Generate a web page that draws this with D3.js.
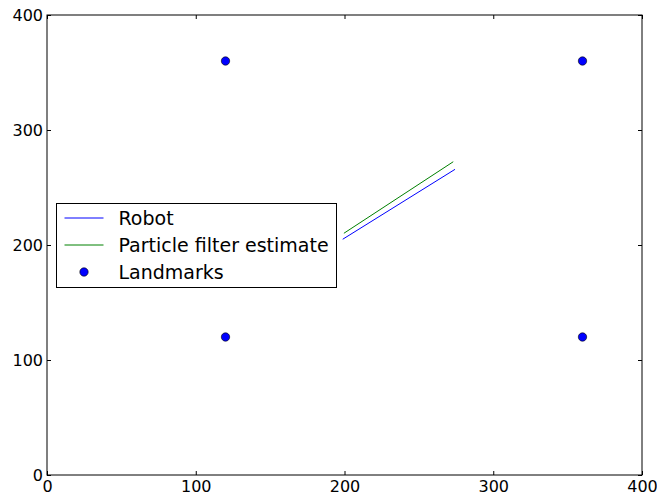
<!DOCTYPE html>
<html>
<head>
<meta charset="utf-8">
<script src="https://cdn.jsdelivr.net/npm/d3@7"></script>
<style>
  html, body { margin: 0; padding: 0; background: #fff; }
  svg { display: block; font-family: "DejaVu Sans", sans-serif; }
</style>
</head>
<body>
<svg id="chart" width="657" height="498"></svg>
<script>
// Robot trajectory and particle filter estimate (x, y)
const robotX = [198.8, 274.3];
const robotY = [205.0, 265.8];
const estimateX = [199.6, 273.1];
const estimateY = [210.2, 272.4];

// Landmark positions
const landmarkX = [120, 120, 360, 360];
const landmarkY = [120, 360, 120, 360];

const xTicks = [0, 100, 200, 300, 400];
const yTicks = [0, 100, 200, 300, 400];

const legendLabels = ["Robot", "Particle filter estimate", "Landmarks"];

const svg = d3.select("#chart");
const plotLeft = 47, plotRight = 642, plotTop = 15, plotBottom = 475;

const x = d3.scaleLinear().domain([0, 400]).range([plotLeft, plotRight]);
const y = d3.scaleLinear().domain([0, 400]).range([plotBottom, plotTop]);

const zip = (xs, ys) => xs.map((v, i) => [v, ys[i]]);
const line = d3.line().x(d => x(d[0])).y(d => y(d[1]));

const plot = svg.append("g");

plot.append("path")
  .datum(zip(robotX, robotY))
  .attr("d", line)
  .attr("fill", "none")
  .attr("stroke", "#0000ff")
  .attr("stroke-width", 1);

plot.append("path")
  .datum(zip(estimateX, estimateY))
  .attr("d", line)
  .attr("fill", "none")
  .attr("stroke", "#008000")
  .attr("stroke-width", 1);

plot.selectAll("circle.lm")
  .data(zip(landmarkX, landmarkY))
  .enter().append("circle")
  .attr("class", "lm")
  .attr("cx", d => x(d[0]))
  .attr("cy", d => y(d[1]))
  .attr("r", 4.2)
  .attr("fill", "#0000ff")
  .attr("stroke", "#000")
  .attr("stroke-width", 0.6);

// Axes: ticks point inward on all four sides
function styleAxis(g) {
  g.select(".domain").remove();
  g.selectAll(".tick line").attr("stroke", "#000").attr("stroke-width", 1);
  g.selectAll(".tick text").attr("fill", "#000")
    .style("font-family", "DejaVu Sans, sans-serif").style("font-size", "16px");
}

svg.append("g").attr("transform", `translate(0,${plotBottom})`)
  .call(d3.axisBottom(x).tickValues(xTicks).tickSizeInner(-4).tickSizeOuter(0).tickPadding(6).tickFormat(d3.format("d")))
  .call(styleAxis);
svg.append("g").attr("transform", `translate(0,${plotTop})`)
  .call(d3.axisTop(x).tickValues(xTicks).tickSizeInner(-4).tickSizeOuter(0).tickFormat(""))
  .call(styleAxis);
svg.append("g").attr("transform", `translate(${plotLeft},0)`)
  .call(d3.axisLeft(y).tickValues(yTicks).tickSizeInner(-4).tickSizeOuter(0).tickPadding(4).tickFormat(d3.format("d")))
  .call(styleAxis);
svg.append("g").attr("transform", `translate(${plotRight},0)`)
  .call(d3.axisRight(y).tickValues(yTicks).tickSizeInner(-4).tickSizeOuter(0).tickFormat(""))
  .call(styleAxis);

// Frame
svg.append("rect")
  .attr("x", plotLeft).attr("y", plotTop)
  .attr("width", plotRight - plotLeft).attr("height", plotBottom - plotTop)
  .attr("fill", "none").attr("stroke", "#000").attr("stroke-width", 1);

// Legend
const lg = svg.append("g").attr("transform", "translate(56.5,203.5)");
lg.append("rect").attr("width", 280).attr("height", 84)
  .attr("fill", "#fff").attr("stroke", "#000").attr("stroke-width", 1);
const rowY = [14.5, 41.5, 68.5];
lg.append("line").attr("x1", 8).attr("x2", 47).attr("y1", rowY[0]).attr("y2", rowY[0])
  .attr("stroke", "#0000ff").attr("stroke-width", 1);
lg.append("line").attr("x1", 8).attr("x2", 47).attr("y1", rowY[1]).attr("y2", rowY[1])
  .attr("stroke", "#008000").attr("stroke-width", 1);
lg.append("circle").attr("cx", 27.5).attr("cy", rowY[2]).attr("r", 4.2)
  .attr("fill", "#0000ff").attr("stroke", "#000").attr("stroke-width", 0.6);
lg.selectAll("text.lab").data(legendLabels).enter().append("text")
  .attr("class", "lab")
  .attr("x", 62).attr("y", (d, i) => rowY[i])
  .attr("dy", "0.35em")
  .style("font-size", "19px")
  .attr("fill", "#000")
  .text(d => d);
</script>
</body>
</html>
